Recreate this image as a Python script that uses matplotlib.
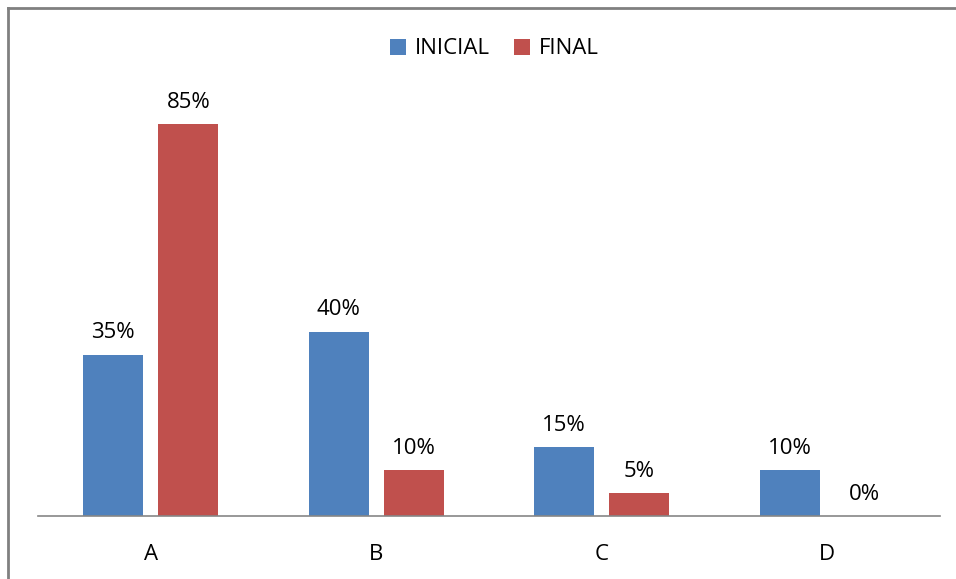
import matplotlib.pyplot as plt
from matplotlib.lines import Line2D
import numpy as np

plt.rcParams['font.family'] = ['Open Sans', 'DejaVu Sans']

categories = ["A", "B", "C", "D"]
inicial = [35, 40, 15, 10]
final = [85, 10, 5, 0]
series_names = ["INICIAL", "FINAL"]

blue = "#4F81BD"
red = "#C0504D"

fig = plt.figure(figsize=(9.56, 5.79), dpi=100)
ax = fig.add_axes([38 / 956, 1 - 516 / 579, 902 / 956, 415 / 579])

x = np.arange(len(categories))
w = 0.266
off = 0.1663
b1 = ax.bar(x - off, inicial, w, color=blue, label=series_names[0])
b2 = ax.bar(x + off, final, w, color=red, label=series_names[1])

for bars, vals in [(b1, inicial), (b2, final)]:
    for r, v in zip(bars, vals):
        ax.annotate(f"{v}%", (r.get_x() + r.get_width() / 2, v),
                    xytext=(0, 8), textcoords="offset points",
                    ha="center", va="bottom", fontsize=16)

ax.set_xlim(-0.5, len(categories) - 0.5)
ax.set_ylim(0, 90)
ax.set_yticks([])
ax.set_xticks(x)
ax.set_xticklabels(categories, fontsize=16)
ax.tick_params(axis="x", length=0, pad=20)
for s in ["top", "right", "left"]:
    ax.spines[s].set_visible(False)
ax.spines["bottom"].set_color("#868686")
ax.spines["bottom"].set_linewidth(1.2)

fig.legend(loc="center", bbox_to_anchor=(0.517, 1 - 49 / 579), ncol=2,
           frameon=False, fontsize=16, handlelength=0.7, handleheight=0.7,
           handletextpad=0.4, columnspacing=1.1)

# outer border (top and left only, as in the reference)
fig.add_artist(Line2D([8 / 956, 1], [1 - 8 / 579, 1 - 8 / 579],
                      transform=fig.transFigure, color="#808080", lw=2))
fig.add_artist(Line2D([8 / 956, 8 / 956], [0, 1 - 8 / 579],
                      transform=fig.transFigure, color="#808080", lw=2))

fig.savefig("out.png", dpi=100)
